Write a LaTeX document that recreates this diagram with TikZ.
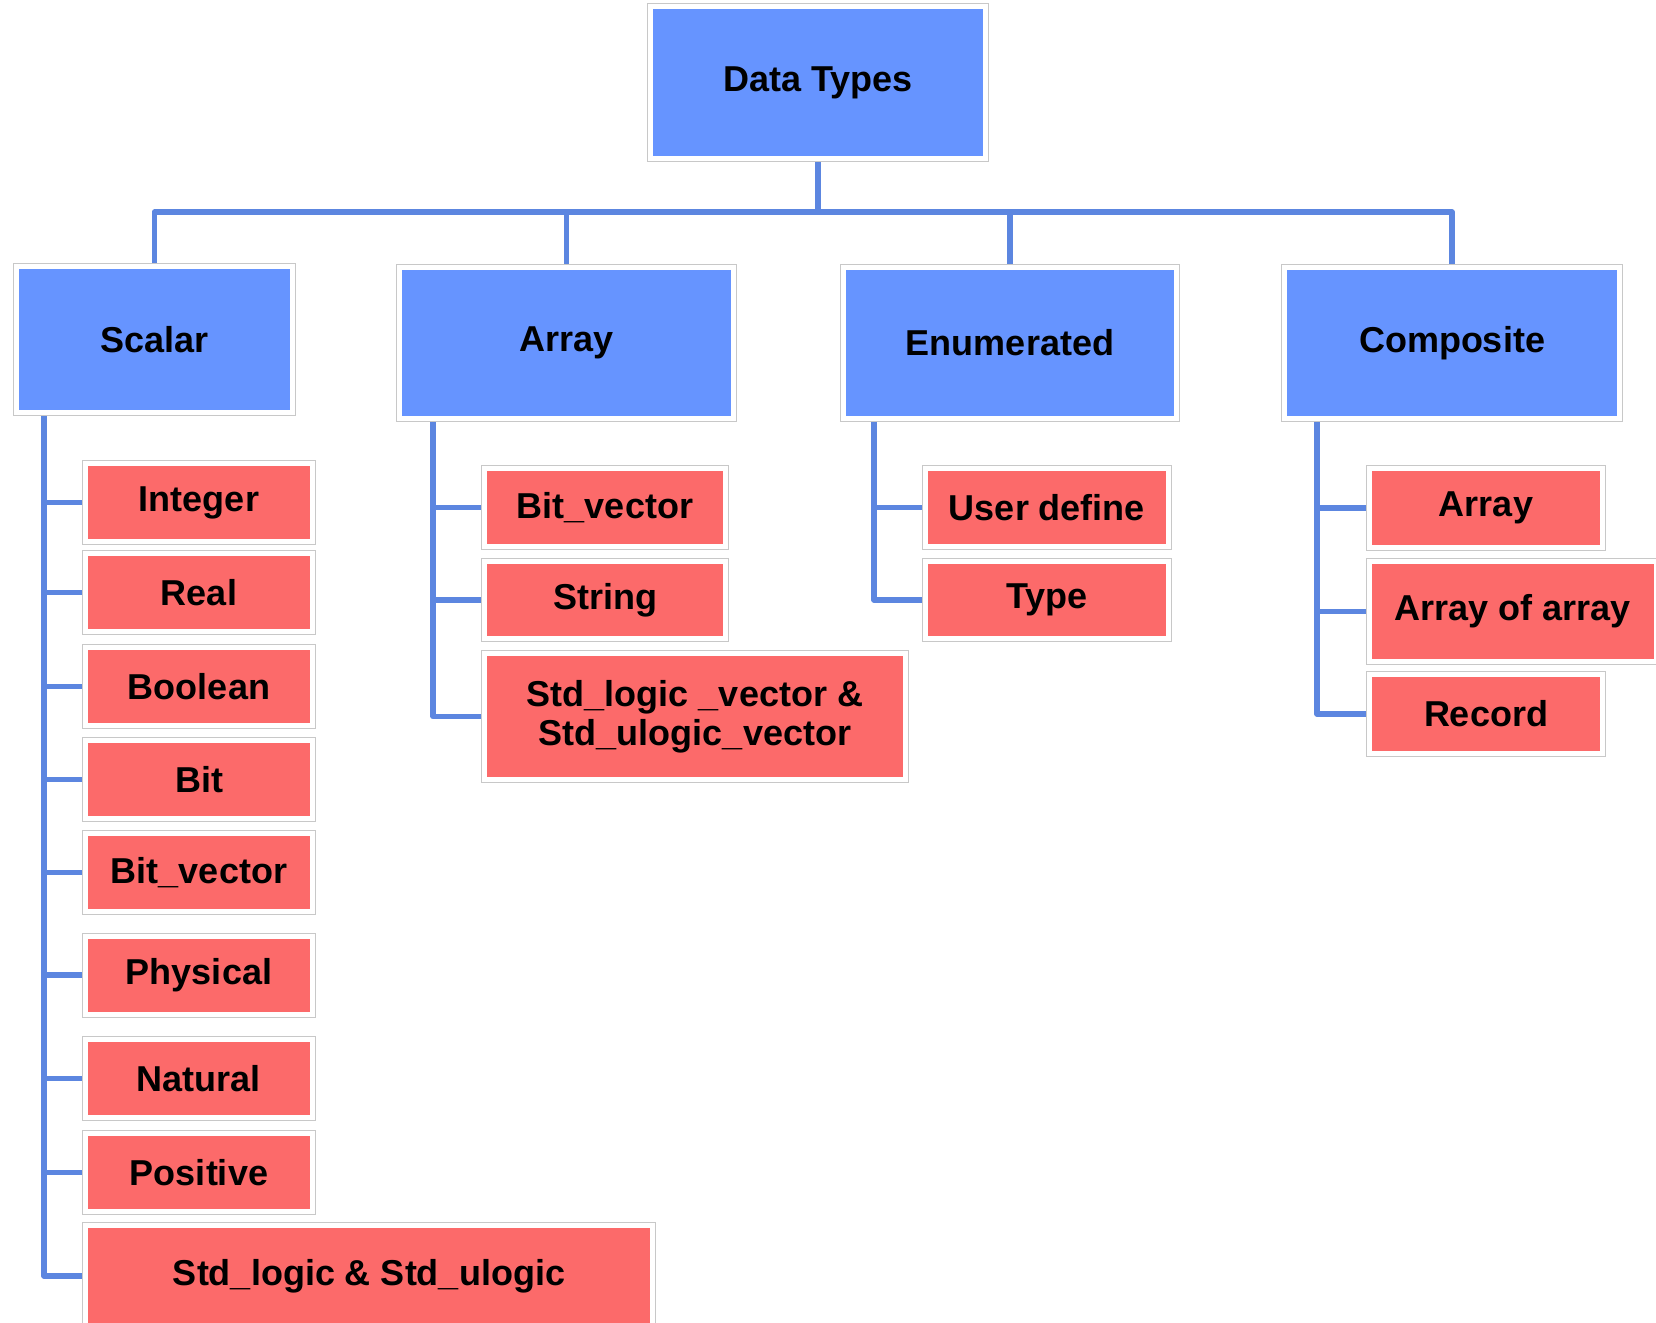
\documentclass[tikz,border=0pt]{standalone}
\usepackage{fontspec}
\setmainfont{Liberation Sans}
\usetikzlibrary{positioning,backgrounds}
\definecolor{boxblue}{RGB}{102,148,255}
\definecolor{boxred}{RGB}{252,106,106}
\definecolor{linkblue}{RGB}{92,134,224}
\definecolor{framegray}{RGB}{200,200,200}

\begin{document}
\begin{tikzpicture}[x=1pt, y=-1pt,
    font=\fontsize{36}{39}\selectfont\bfseries,
    frame/.style={inner sep=0pt, align=center, draw=white, line width=5pt,
      preaction={draw=framegray, line width=7pt}},
    typebox/.style={frame, fill=boxblue, minimum width=334pt, minimum height=151pt},
    subbox/.style={frame, fill=boxred, minimum width=227pt, minimum height=78pt},
    link/.style={draw=linkblue, line width=5.5pt, line join=round}]
  \useasboundingbox (0,0) rectangle (1656,1322);
  % top and main types
  \node[typebox, minimum width=335pt, minimum height=152pt] (dt) at (818,82.5) {Data Types};
  \node[typebox, minimum width=276pt, minimum height=146pt] (scalar) at (154.5,339.5) {Scalar};
  \node[typebox] (array) at (566.5,343) {Array};
  \node[typebox, minimum width=333pt] (enum) at (1010,343) {Enumerated};
  \node[typebox, minimum width=335pt] (comp) at (1452,343) {Composite};
  % scalar
  \foreach \n/\y/\t in {int/502.5/Integer, real/592.5/Real, bool/686.5/Boolean,
      bit/779.5/Bit, bitvec/872.5/Bit\_vector, phys/975/Physical,
      nat/1078.5/Natural, pos/1172.5/Positive}
    \node[subbox] (\n) at (199,\y) {\t};
  \node[subbox, minimum width=567pt, minimum height=101pt] (stdl) at (369,1276) {Std\_logic \& Std\_ulogic};
  % array
  \node[subbox, minimum width=241pt] (abitvec) at (605,507.5) {Bit\_vector};
  \node[subbox, minimum width=241pt, minimum height=77pt] (astr) at (605,600) {String};
  \node[subbox, minimum width=421pt, minimum height=126pt] (astdlv) at (695,716.5)
    {Std\_logic \_vector \&\\Std\_ulogic\_vector};
  % enumerated
  \node[subbox, minimum width=243pt] (user) at (1047,507.5) {User define};
  \node[subbox, minimum width=243pt, minimum height=77pt] (type) at (1047,600) {Type};
  % composite
  \node[subbox, minimum width=233pt, minimum height=79pt] (carr) at (1486,508) {Array};
  \node[subbox, minimum width=287pt, minimum height=100pt] (carrarr) at (1513,611.5) {Array of array};
  \node[subbox, minimum width=233pt, minimum height=79pt] (rec) at (1486,714) {Record};

  \begin{scope}[on background layer]
    \coordinate (bus) at (818,212);
    \draw[link] (scalar.north) |- (bus) -| (comp.north);
    \draw[link] (dt.south) -- (bus);
    \draw[link] (array.north) -- (array.north |- bus);
    \draw[link] (enum.north) -- (enum.north |- bus);
    % spines
    \coordinate (sspine) at (44,0);
    \coordinate (aspine) at (433,0);
    \coordinate (espine) at (874,0);
    \coordinate (cspine) at (1317,0);
    \draw[link] (scalar.south -| sspine) |- (stdl.west);
    \foreach \n in {int,real,bool,bit,bitvec,phys,nat,pos}
      \draw[link] (\n.west) -- (\n.west -| sspine);
    \draw[link] (array.south -| aspine) |- (astdlv.west);
    \foreach \n in {abitvec,astr}
      \draw[link] (\n.west) -- (\n.west -| aspine);
    \draw[link] (enum.south -| espine) |- (type.west);
    \draw[link] (user.west) -- (user.west -| espine);
    \draw[link] (comp.south -| cspine) |- (rec.west);
    \foreach \n in {carr,carrarr}
      \draw[link] (\n.west) -- (\n.west -| cspine);
  \end{scope}
\end{tikzpicture}
\end{document}
